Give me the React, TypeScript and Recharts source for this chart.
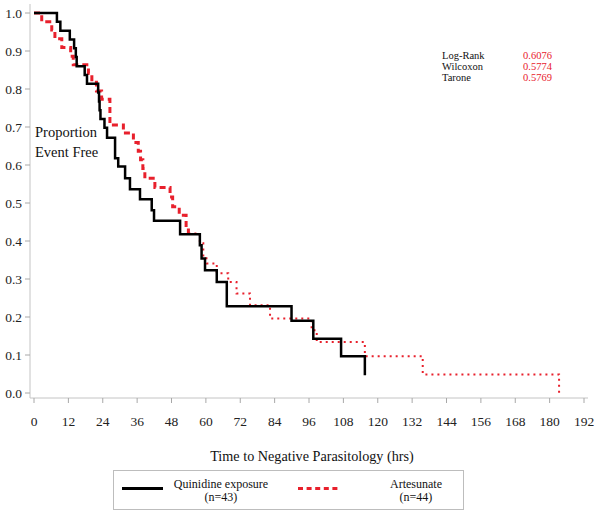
import React from 'react';
import { LineChart, Line, XAxis, YAxis } from 'recharts';

const xTicks = [0, 12, 24, 36, 48, 60, 72, 84, 96, 108, 120, 132, 144, 156, 168, 180, 192];
const yTicks = [0, 0.1, 0.2, 0.3, 0.4, 0.5, 0.6, 0.7, 0.8, 0.9, 1.0];

// Quinidine exposure (n=43): step times (hrs) and survival after each step
const quinidineTimes = [0, 8.0, 9.2, 12.5, 14.0, 14.6, 14.9, 17.7, 18.5, 22.4, 22.7, 22.9, 23.2, 24.6, 25.5, 28.3, 29.4, 31.8, 33.5, 37.0, 41.1, 41.9, 51.0, 57.9, 58.5, 59.7, 63.8, 67.3, 89.9, 97.5, 107.2, 115.5];
const quinidineSurv = [1.0, 0.977, 0.953, 0.930, 0.907, 0.884, 0.860, 0.837, 0.814, 0.791, 0.767, 0.744, 0.721, 0.698, 0.672, 0.618, 0.596, 0.565, 0.536, 0.510, 0.481, 0.453, 0.418, 0.389, 0.354, 0.323, 0.292, 0.228, 0.190, 0.143, 0.097, 0.047];

// Artesunate (n=44): early part (dashed)
const artesunateEarlyTimes = [0, 2.7, 6.2, 7.3, 9.7, 12.8, 13.7, 19.0, 20.2, 21.8, 23.6, 26.5, 31.2, 34.7, 36.4, 37.2, 38.0, 38.7, 42.2, 47.5, 48.4, 50.7, 53.1, 53.9];
const artesunateEarlySurv = [1.0, 0.977, 0.955, 0.932, 0.909, 0.886, 0.864, 0.841, 0.818, 0.795, 0.773, 0.705, 0.684, 0.659, 0.636, 0.614, 0.591, 0.565, 0.541, 0.516, 0.490, 0.468, 0.433, 0.420];
// Artesunate (n=44): later part (dotted)
const artesunateLateTimes = [53.9, 57.9, 59.1, 60.2, 63.8, 67.8, 70.7, 75.4, 82.4, 96.9, 98.7, 115.5, 135.7, 183.3];
const artesunateLateSurv = [0.420, 0.394, 0.358, 0.341, 0.315, 0.292, 0.262, 0.231, 0.196, 0.165, 0.134, 0.097, 0.049, 0.0];

const statNames = ['Log-Rank', 'Wilcoxon', 'Tarone'];
const statValues = ['0.6076', '0.5774', '0.5769'];

const zip = (ts: number[], ss: number[]) => ts.map((t, i) => ({ t, s: ss[i] }));
const quinidineData = zip(quinidineTimes, quinidineSurv);
const artEarlyData = zip(artesunateEarlyTimes, artesunateEarlySurv);
const artLateData = zip(artesunateLateTimes, artesunateLateSurv);

const RED = '#e8202c';
const FONT = '"Liberation Serif", "Times New Roman", serif';
const tickStyle = { fontFamily: FONT, fontSize: 13.5, fill: '#222' };

export default function App() {
  return (
    <div style={{ position: 'absolute', left: 0, top: 0, width: 600, height: 514, background: '#fff', fontFamily: FONT }}>
      <LineChart width={600} height={514} margin={{ top: 4, right: 12, bottom: 86, left: 0 }}>
        <XAxis
          dataKey="t"
          type="number"
          domain={[0, 192]}
          ticks={xTicks}
          interval={0}
          padding={{ left: 4, right: 4 }}
          axisLine={{ stroke: '#c4c4c4' }}
          tickLine={{ stroke: '#a8a8a8' }}
          tickSize={5}
          tickMargin={13}
          height={30}
          tick={tickStyle}
          allowDataOverflow
        />
        <XAxis xAxisId="top" orientation="top" type="number" domain={[0, 1]} tick={false} tickLine={false} height={0} axisLine={{ stroke: '#c4c4c4' }} />
        <YAxis
          type="number"
          domain={[0, 1]}
          ticks={yTicks}
          interval={0}
          tickFormatter={(v: number) => v.toFixed(1)}
          width={30}
          padding={{ top: 9, bottom: 5 }}
          axisLine={{ stroke: '#c4c4c4' }}
          tickLine={{ stroke: '#a8a8a8' }}
          tickSize={5}
          tickMargin={3}
          tick={tickStyle}
        />
        <YAxis yAxisId="right" orientation="right" type="number" domain={[0, 1]} tick={false} tickLine={false} width={0} axisLine={{ stroke: '#c4c4c4' }} />
        <Line data={artEarlyData} dataKey="s" type="stepAfter" stroke={RED} strokeWidth={3} strokeDasharray="6 4" dot={false} activeDot={false} isAnimationActive={false} />
        <Line data={artLateData} dataKey="s" type="stepAfter" stroke={RED} strokeWidth={2} strokeDasharray="2 4" dot={false} activeDot={false} isAnimationActive={false} />
        <Line data={quinidineData} dataKey="s" type="stepAfter" stroke="#000" strokeWidth={2.5} dot={false} activeDot={false} isAnimationActive={false} />
      </LineChart>

      <div style={{ position: 'absolute', left: 35, top: 121.6, fontSize: 14.5, lineHeight: '20px', color: '#111', whiteSpace: 'nowrap' }}>
        Proportion<br />Event Free
      </div>

      <div style={{ position: 'absolute', left: 442, top: 51.1, fontSize: 10.5, lineHeight: '10.7px', color: '#111', whiteSpace: 'nowrap' }}>
        {statNames.map((n) => <div key={n}>{n}</div>)}
      </div>
      <div style={{ position: 'absolute', left: 523, top: 51.1, fontSize: 10.5, lineHeight: '10.7px', color: RED, whiteSpace: 'nowrap' }}>
        {statValues.map((v, i) => <div key={i}>{v}</div>)}
      </div>

      <div style={{ position: 'absolute', left: 112, width: 400, top: 449, fontSize: 14.2, lineHeight: '14.2px', textAlign: 'center', color: '#111', whiteSpace: 'nowrap' }}>
        Time to Negative Parasitology (hrs)
      </div>

      <div style={{ position: 'absolute', left: 113, top: 470, width: 351, height: 40, border: '1px solid #bdbdbd', boxSizing: 'border-box' }} />
      <svg style={{ position: 'absolute', left: 0, top: 0 }} width={600} height={514} pointerEvents="none">
        <line x1={122} x2={163} y1={488.5} y2={488.5} stroke="#000" strokeWidth={3} />
        <line x1={298} x2={339} y1={488.5} y2={488.5} stroke={RED} strokeWidth={3} strokeDasharray="5 3.6" />
      </svg>
      <div style={{ position: 'absolute', left: 161, width: 120, top: 478, fontSize: 12, lineHeight: '12.5px', textAlign: 'center', color: '#111', whiteSpace: 'nowrap' }}>
        Quinidine exposure<br />(n=43)
      </div>
      <div style={{ position: 'absolute', left: 356, width: 120, top: 478, fontSize: 12, lineHeight: '12.5px', textAlign: 'center', color: '#111', whiteSpace: 'nowrap' }}>
        Artesunate<br />(n=44)
      </div>
    </div>
  );
}
